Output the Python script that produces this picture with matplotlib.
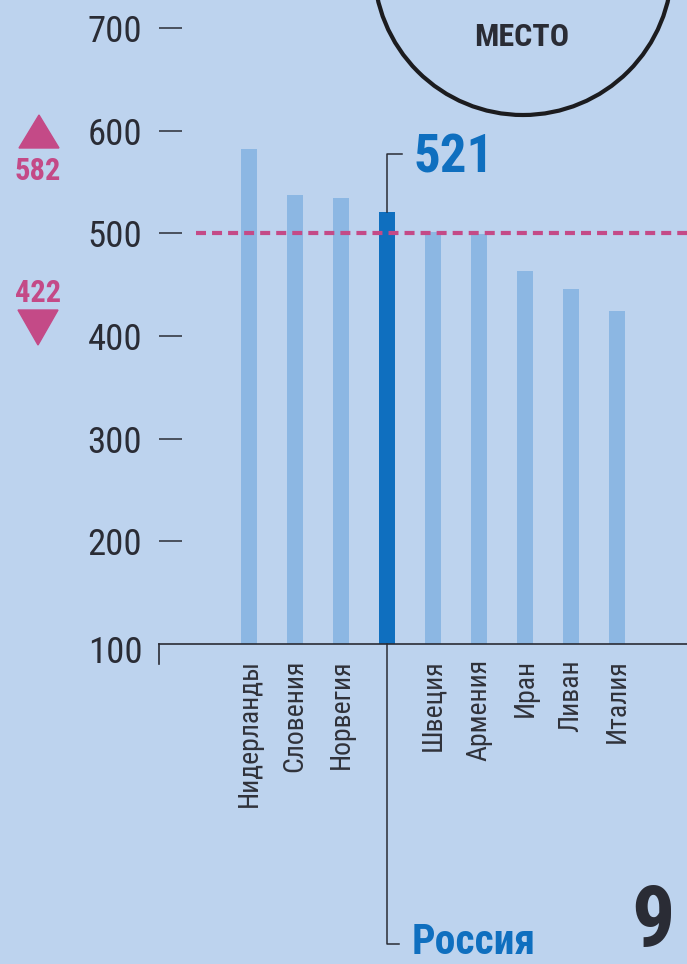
import matplotlib
matplotlib.use("Agg")
import matplotlib.pyplot as plt
from matplotlib.patches import Ellipse, Polygon
from matplotlib import transforms

# ---- data ----
countries = ["Нидерланды", "Словения", "Норвегия", "Россия", "Швеция",
             "Армения", "Иран", "Ливан", "Италия"]
scores = [582, 537, 534, 521, 501, 499, 463, 446, 424]
highlight = "Россия"
average = 500
max_score = 582
min_score = 422
yticks = [100, 200, 300, 400, 500, 600, 700]
rank_text = "9"
circle_text = "МЕСТО"

BG = "#bdd3ee"
LIGHT = "#8cb7e3"
DARK_BLUE = "#0f6fbf"
MAGENTA = "#c44a87"
INK = "#2a2c35"

COND = ["Roboto Condensed", "DejaVu Sans"]

W, H = 687, 964
fig = plt.figure(figsize=(W / 100, H / 100), dpi=100, facecolor=BG)

ax_left, ax_bottom_px, ax_top_px = 159, 644, 28
ax = fig.add_axes([ax_left / W, (H - ax_bottom_px) / H, (W - ax_left) / W,
                   (ax_bottom_px - ax_top_px) / H])
ax.set_facecolor("none")

x = list(range(len(countries)))
spacing = 46.0
x0px = 249
ax.set_xlim((ax_left - x0px) / spacing, (W - x0px) / spacing)
ax.set_ylim(100, 700)
px_per_unit = (ax_bottom_px - ax_top_px) / 600.0

colors = [DARK_BLUE if c == highlight else LIGHT for c in countries]
ax.bar(x, [s - 100 for s in scores], bottom=100, width=0.35, color=colors, zorder=2)

# average dashed line
ax.plot([(196 - x0px) / spacing, (W - x0px) / spacing], [average, average],
        color=MAGENTA, lw=3.0, dashes=(2.4, 1.45), zorder=3, clip_on=False,
        solid_capstyle="butt", dash_capstyle="butt")

# spines
for s in ["left", "right", "top"]:
    ax.spines[s].set_visible(False)
ax.spines["bottom"].set_color(INK)
ax.spines["bottom"].set_linewidth(1.2)

# y ticks
ax.set_yticks(yticks)
ax.set_yticklabels([str(t) for t in yticks], family=COND, fontsize=26.5, color=INK)
ax.tick_params(axis="y", direction="in", length=16.5, width=1.1, color=INK, pad=12)
ax.yaxis.get_major_ticks()[0].tick1line.set_visible(False)
for lbl in ax.get_yticklabels():
    if lbl.get_text() == "100":
        lbl.set_transform(lbl.get_transform() +
                          transforms.ScaledTranslation(0, -5 / 100, fig.dpi_scale_trans))

# corner stub of the axis
ax.plot([(ax_left - x0px) / spacing] * 2, [100, 100 - 20 / px_per_unit], color=INK,
        lw=1.2, clip_on=False)

# x tick labels
ax.set_xticks(x)
ax.set_xticklabels(["" if c == highlight else c for c in countries],
                   rotation=90, family=COND, fontsize=20, color="#30323a", va="top")
ax.tick_params(axis="x", length=0, pad=11)

# Russia callouts
hi = countries.index(highlight)
hv = scores[hi]
top_line = hv + 58 / px_per_unit
ax.plot([hi, hi, hi + 15 / spacing], [hv, top_line, top_line], color=INK, lw=1.1,
        clip_on=False, zorder=4)
ax.text(hi + 27 / spacing, top_line - 4 / px_per_unit, str(hv), family=COND,
        fontweight="bold", fontsize=38, color=DARK_BLUE, ha="left", va="center")

bot = 100 - 300 / px_per_unit
ax.plot([hi, hi, hi + 12 / spacing], [100, bot, bot], color=INK, lw=1.1,
        clip_on=False, zorder=4)
fig.text(412 / W, 1 - 963 / H, highlight, family=COND, fontweight="bold",
         fontsize=30, color=DARK_BLUE, ha="left", va="bottom")

# rank number
fig.text(631 / W, 1 - 963 / H, rank_text, family=COND, fontweight="bold",
         fontsize=62, color=INK, ha="left", va="bottom")

# circle at top
circ = Ellipse((523 / W, 1 + 34 / H), 298 / W, 298 / H, transform=fig.transFigure,
               fill=False, edgecolor="#1c1c1f", lw=3.0, clip_on=False)
fig.add_artist(circ)
fig.text(522 / W, 1 - 37 / H, circle_text, family=COND, fontweight="bold",
         fontsize=23, color=INK, ha="center", va="center")

# max / min markers on the left
up = Polygon([[19 / W, 1 - 148 / H], [59 / W, 1 - 148 / H], [39 / W, 1 - 115 / H]],
             closed=True, transform=fig.transFigure, color=MAGENTA)
dn = Polygon([[18 / W, 1 - 310 / H], [58 / W, 1 - 310 / H], [38 / W, 1 - 345 / H]],
             closed=True, transform=fig.transFigure, color=MAGENTA)
fig.add_artist(up)
fig.add_artist(dn)
fig.text(38 / W, 1 - 171 / H, str(max_score), family=COND, fontweight="bold",
         fontsize=22, color=MAGENTA, ha="center", va="center")
fig.text(38 / W, 1 - 293 / H, str(min_score), family=COND, fontweight="bold",
         fontsize=22, color=MAGENTA, ha="center", va="center")

fig.savefig("out.png", dpi=100, facecolor=BG)
